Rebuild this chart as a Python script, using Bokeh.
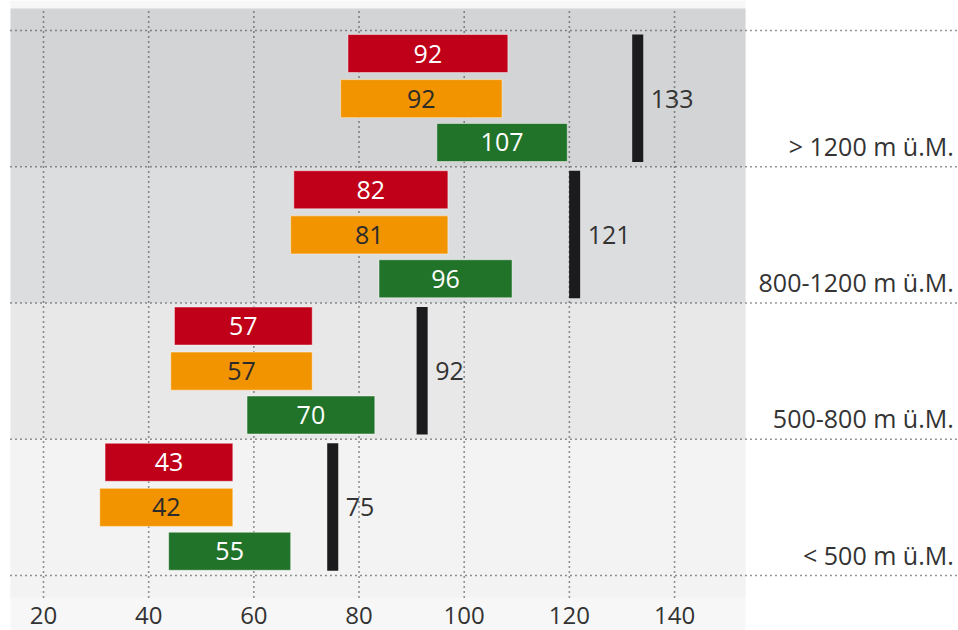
from bokeh.plotting import figure
from bokeh.models import Range1d, ColumnDataSource
from bokeh.core.properties import value
from bokeh.embed import file_html
from bokeh.resources import INLINE

# ---- data (bottom band first) ----
categories = ["< 500 m ü.M.", "500-800 m ü.M.", "800-1200 m ü.M.", "> 1200 m ü.M."]
red_start = [31.7, 44.9, 67.6, 77.9]
red_end = [56.0, 71.1, 96.9, 108.3]
red_label = [43, 57, 82, 92]
orange_start = [30.7, 44.2, 67.0, 76.5]
orange_end = [56.0, 71.1, 96.9, 107.2]
orange_label = [42, 57, 81, 92]
green_start = [43.8, 58.7, 83.8, 94.8]
green_end = [67.0, 83.0, 109.1, 119.6]
green_label = [55, 70, 96, 107]
black_value = [75, 92, 121, 133]
x_ticks = [20, 40, 60, 80, 100, 120, 140]
x_tick_labels = ["20", "40", "60", "80", "100", "120", "140"]

band_colors = ["#f3f3f3", "#e8e8e8", "#dcdddf", "#d3d4d6"]

FONT = value("Open Sans")
FS = "25px"

X0, X1 = 11.82, 194.0
PLOT_L, PLOT_R = 13.72, 153.5
Y0, Y1 = -0.4037, 4.2202
PAD = 0.161

p = figure(width=958, height=630, x_range=Range1d(X0, X1), y_range=Range1d(Y0, Y1),
           output_backend="svg", toolbar_location=None,
           x_axis_location=None, y_axis_location=None, min_border=0)
p.xgrid.visible = False
p.ygrid.visible = False
p.outline_line_color = None
p.background_fill_color = "white"
p.border_fill_color = "white"

n = len(categories)
idx = list(range(n))

# light background of the plot column
p.quad(left=[PLOT_L], right=[PLOT_R], bottom=[Y0], top=[Y1], fill_color="#f7f7f7", line_color=None)

# bands
b_bottom = [i - (PAD if i == 0 else 0) for i in idx]
b_top = [i + 1 + (PAD if i == n - 1 else 0) for i in idx]
p.quad(left=[PLOT_L] * n, right=[PLOT_R] * n, bottom=b_bottom, top=b_top,
       fill_color=band_colors, line_color=None)

# grid lines (dotted)
dot = dict(line_color="#2e2e2e", line_width=1.6, line_dash=value("1 4"))
p.segment(x0=x_ticks, x1=x_ticks, y0=[-PAD] * len(x_ticks), y1=[n + PAD] * len(x_ticks), **dot)
p.segment(x0=[PLOT_L] * (n + 1), x1=[X1] * (n + 1), y0=list(range(n + 1)), y1=list(range(n + 1)), **dot)

H = 0.279
def bars(start, end, off, color, labels, tcolor):
    src = ColumnDataSource(dict(y=[i + off for i in idx], l=start, r=end,
                                xm=[(a + b) / 2 for a, b in zip(start, end)],
                                t=[str(v) for v in labels]))
    p.hbar(y="y", left="l", right="r", height=H, source=src, fill_color=color,
           line_color="white", line_alpha=0.45, line_width=1)
    p.text(x="xm", y="y", text="t", source=src, text_align="center", text_baseline="middle",
           text_font=FONT, text_font_size=FS, text_color=tcolor)

bars(red_start, red_end, 0.831, "#c00018", red_label, "white")
bars(orange_start, orange_end, 0.5, "#f29400", orange_label, "#2b2b2b")
bars(green_start, green_end, 0.178, "#22732a", green_label, "white")

# black marker bars
bw = 2.1
p.quad(left=[v - bw / 2 for v in black_value], right=[v + bw / 2 for v in black_value],
       bottom=[i + 0.035 for i in idx], top=[i + 0.971 for i in idx],
       fill_color="#1b1a1d", line_color=None)
p.text(x=black_value, y=[i + 0.5 for i in idx], text=[str(v) for v in black_value],
       x_offset=13, text_align="left", text_baseline="middle",
       text_font=FONT, text_font_size=FS, text_color="#333333")

# category labels
p.text(x=[193.1] * n, y=[i + 0.154 for i in idx], text=categories,
       text_align="right", text_baseline="middle",
       text_font=FONT, text_font_size=FS, text_color="#333333")

# x tick labels
p.text(x=x_ticks, y=[-0.29] * len(x_ticks), text=x_tick_labels,
       text_align="center", text_baseline="middle",
       text_font=FONT, text_font_size="24px", text_color="#333333")

open("out.html", "w").write(file_html(p, INLINE))
